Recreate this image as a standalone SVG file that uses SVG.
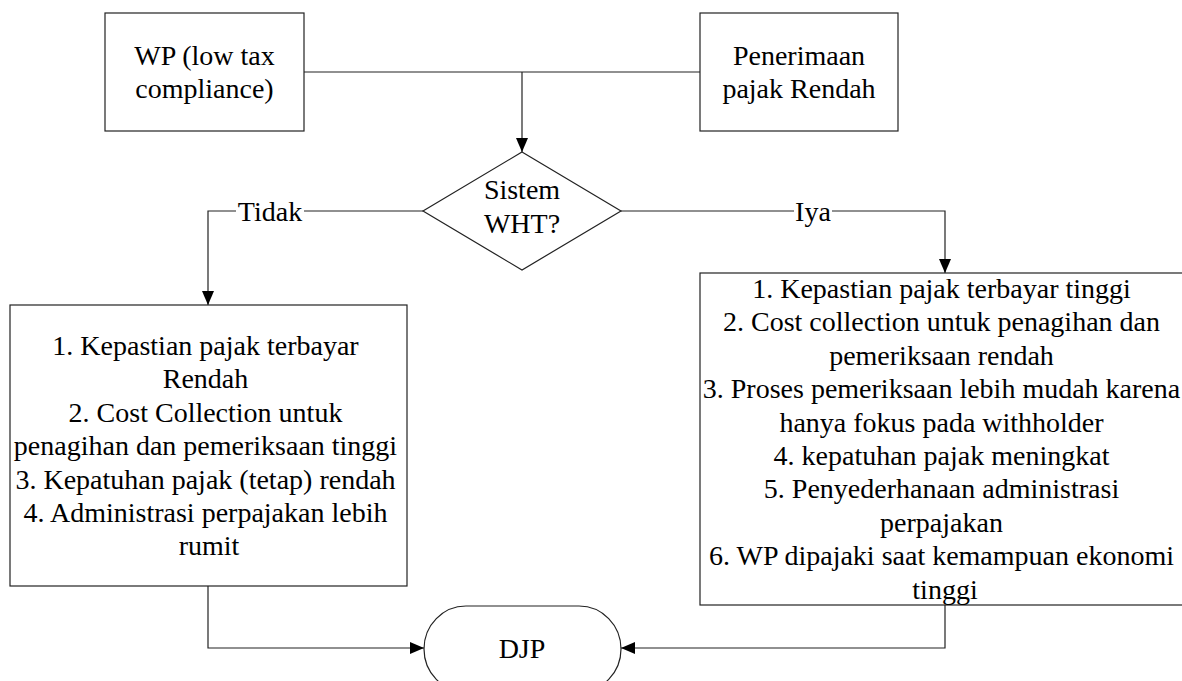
<svg xmlns="http://www.w3.org/2000/svg" width="1182" height="681" viewBox="0 0 1182 681">
<style>
.box{fill:#fff;stroke:#222;stroke-width:1.2}
.t{font-family:"Liberation Serif",Tinos,"Times New Roman",Times,"DejaVu Serif",serif;font-size:28px;fill:#000;text-anchor:middle}
.c{fill:none;stroke:#222;stroke-width:1.2}
.lbl{fill:#fff}
</style>
<defs>
<marker id="ah" viewBox="0 0 14 12" refX="14" refY="6" markerWidth="14" markerHeight="12" markerUnits="userSpaceOnUse" orient="auto">
<path d="M0,0 L14,6 L0,12 Z" fill="#000"/>
</marker>
</defs>
<rect width="1182" height="681" fill="#fff"/>
<g id="connectors">
<path class="c" d="M304,72 H700"/>
<path class="c" d="M522,72 V152" marker-end="url(#ah)"/>
<path class="c" d="M423,211 H208 V305" marker-end="url(#ah)"/>
<path class="c" d="M621,211 H945 V273" marker-end="url(#ah)"/>
<path class="c" d="M208,586 V648 H424" marker-end="url(#ah)"/>
<path class="c" d="M945,605 V648 H621" marker-end="url(#ah)"/>
<rect class="lbl" x="236" y="200" width="68" height="22"/>
<text class="t" x="270" y="221">Tidak</text>
<rect class="lbl" x="794" y="200" width="38" height="22"/>
<text class="t" x="813" y="221">Iya</text>
</g>
<g id="wp">
<rect class="box" x="105" y="13" width="199" height="118"/>
<text class="t" x="204.5" y="65">WP (low tax</text>
<text class="t" x="204.5" y="98">compliance)</text>
</g>
<g id="penerimaan">
<rect class="box" x="700" y="13" width="198" height="118"/>
<text class="t" x="799" y="65">Penerimaan</text>
<text class="t" x="799" y="98">pajak Rendah</text>
</g>
<g id="decision">
<polygon class="box" points="522,152 621,211 522,270 423,211"/>
<text class="t" x="522" y="199">Sistem</text>
<text class="t" x="522" y="233">WHT?</text>
</g>
<g id="tidak-box">
<rect class="box" x="10" y="305" width="397" height="281"/>
<text class="t" x="209">
<tspan x="209" y="355">1. Kepastian pajak terbayar</tspan>
<tspan x="209" y="388.4">Rendah</tspan>
<tspan x="209" y="421.8">2. Cost Collection untuk</tspan>
<tspan x="209" y="455.2">penagihan dan pemeriksaan tinggi</tspan>
<tspan x="209" y="488.6">3. Kepatuhan pajak (tetap) rendah</tspan>
<tspan x="209" y="522">4. Administrasi perpajakan lebih</tspan>
<tspan x="209" y="555.4">rumit</tspan>
</text>
</g>
<g id="iya-box">
<rect class="box" x="700" y="273" width="492" height="332"/>
<text class="t" x="945">
<tspan x="945" y="298">1. Kepastian pajak terbayar tinggi</tspan>
<tspan x="945" y="331.4">2. Cost collection untuk penagihan dan</tspan>
<tspan x="945" y="364.8">pemeriksaan rendah</tspan>
<tspan x="945" y="398.2">3. Proses pemeriksaan lebih mudah karena</tspan>
<tspan x="945" y="431.6">hanya fokus pada withholder</tspan>
<tspan x="945" y="465">4. kepatuhan pajak meningkat</tspan>
<tspan x="945" y="498.4">5. Penyederhanaan administrasi</tspan>
<tspan x="945" y="531.8">perpajakan</tspan>
<tspan x="945" y="565.2">6. WP dipajaki saat kemampuan ekonomi</tspan>
<tspan x="945" y="598.6">tinggi</tspan>
</text>
</g>
<g id="djp">
<rect class="box" x="424" y="606" width="197" height="86" rx="42" ry="43"/>
<text class="t" x="522" y="658">DJP</text>
</g>
</svg>
